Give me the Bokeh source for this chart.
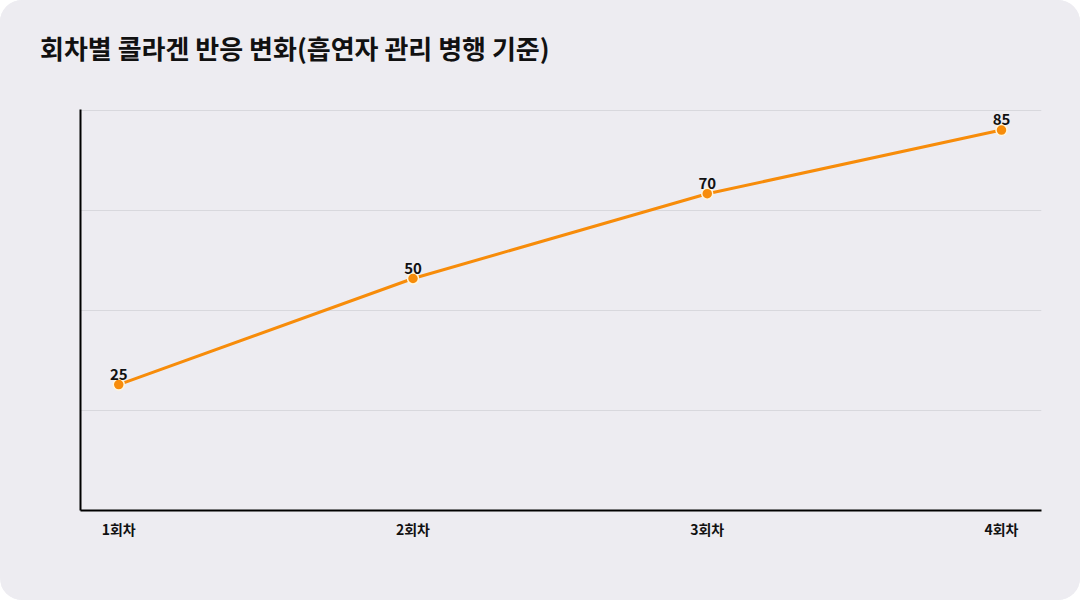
from bokeh.plotting import figure
from bokeh.models import ColumnDataSource, LabelSet, FixedTicker, Range1d, Div
from bokeh.layouts import column
from bokeh.core.properties import value
from bokeh.embed import file_html
from bokeh.resources import INLINE

categories = ["1회차", "2회차", "3회차", "4회차"]
values = [25, 50, 70, 85]
title_text = "회차별 콜라겐 반응 변화(흡연자 관리 병행 기준)"

FONT = "Noto Sans CJK KR"
BG = "#edecf1"
ORANGE = "#f78c0a"

xs = list(range(len(categories)))
src = ColumnDataSource(dict(x=xs, y=values, lbl=[str(v) for v in values]))

head = Div(text=title_text, width=1080, height=80, margin=0,
           styles={"font-family": "'Noto Sans CJK KR'", "font-size": "26px",
                   "font-weight": "bold", "color": "#111111", "line-height": "32px",
                   "padding-left": "40px", "padding-top": "32px", "box-sizing": "border-box",
                   "background-color": BG})

y0, y1 = -4.7, 89.7
p = figure(width=1080, height=520, output_backend="svg", toolbar_location=None,
           x_range=Range1d(-0.13, 3.136), y_range=Range1d(y0, y1 + 0.15),
           min_border_left=80, min_border_right=39, min_border_top=29, min_border_bottom=90,
           margin=0)
p.background_fill_color = BG
p.border_fill_color = BG
p.outline_line_color = None

p.line("x", "y", source=src, line_color=ORANGE, line_width=3)
p.scatter("x", "y", source=src, size=11, fill_color=ORANGE, line_color="#fff6dc", line_width=1.5)

labels = LabelSet(x="x", y="y", text="lbl", source=src, y_offset=5,
                  text_align="center", text_baseline="alphabetic",
                  text_font=value(FONT), text_font_size=value("15px"),
                  text_font_style=value("bold"), text_color=value("#111111"))
p.add_layout(labels)

p.xaxis.ticker = FixedTicker(ticks=xs)
p.xaxis.major_label_overrides = {i: c for i, c in enumerate(categories)}
p.xaxis.major_label_text_font = FONT
p.xaxis.major_label_text_font_size = "14px"
p.xaxis.major_label_text_font_style = "bold"
p.xaxis.major_label_text_color = "#111111"
p.xaxis.major_label_standoff = 2
p.xaxis.axis_line_color = "#000000"
p.xaxis.axis_line_width = 2
p.xaxis.major_tick_line_color = None
p.xaxis.minor_tick_line_color = None

yt = [y0 + i * (y1 - y0) / 4 for i in range(5)]
p.yaxis.ticker = FixedTicker(ticks=[])
p.yaxis.axis_line_color = "#000000"
p.yaxis.axis_line_width = 2
p.yaxis.major_tick_line_color = None
p.yaxis.minor_tick_line_color = None

p.xgrid.grid_line_color = None
p.ygrid.ticker = FixedTicker(ticks=yt)
p.ygrid.grid_line_color = "#d8d8dd"
p.ygrid.grid_line_width = 1

layout = column(head, p, width=1080, height=600, margin=0, spacing=0,
                styles={"border-radius": "22px", "overflow": "hidden",
                        "background-color": BG})

open("out.html", "w").write(file_html(layout, INLINE))
